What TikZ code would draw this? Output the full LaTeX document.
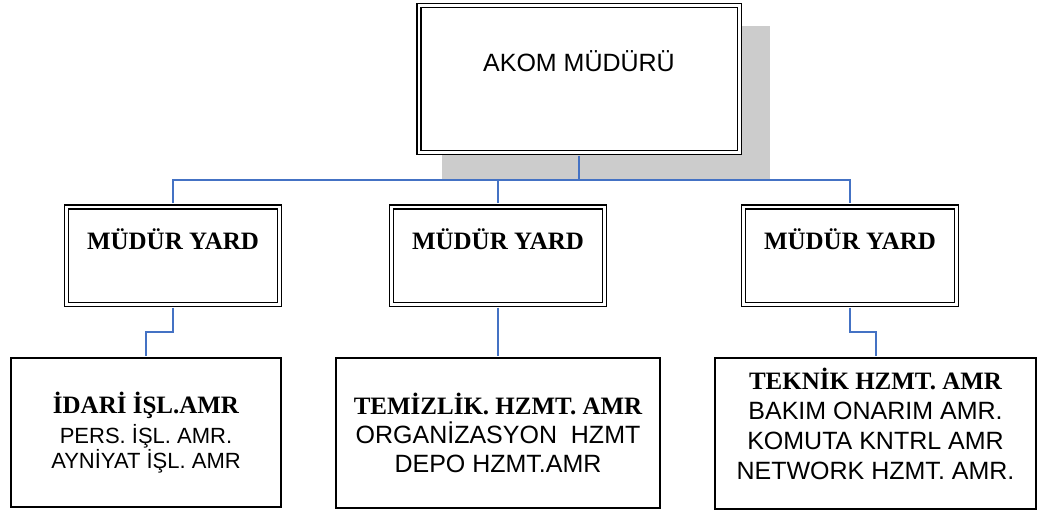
\documentclass[tikz,border=0pt]{standalone}
\usepackage{fontspec}
\setmainfont{Liberation Serif}
\setsansfont{Liberation Sans}
\usetikzlibrary{positioning, backgrounds, calc}
\definecolor{connblue}{RGB}{68,114,196}
\definecolor{shadowgray}{RGB}{204,204,204}

\begin{document}
\begin{tikzpicture}[
  x=1pt, y=-1pt,
  dbl/.style={draw, fill=white, line width=1.5pt, double, double distance=2.5pt, inner sep=0pt},
  topbox/.style={dbl, minimum width=320.5pt, minimum height=146.5pt,
    font=\sffamily\fontsize{25}{30}\selectfont, text height=18pt, text depth=34pt},
  yardbox/.style={dbl, minimum width=213pt, minimum height=97.5pt,
    font=\bfseries\fontsize{25}{30}\selectfont, text height=17pt, text depth=30pt},
  amrbox/.style={draw, line width=1.8pt, align=center, inner sep=0pt},
  conn/.style={draw=connblue, line width=2pt}
]
\useasboundingbox (0,0) rectangle (1039,511);

% Top — Müdür
\node[topbox] (akom) at (579,79) {AKOM MÜDÜRÜ};
\begin{scope}[on background layer]
  \fill[shadowgray] ($(akom.north west)+(24.3,21.3)$) rectangle ($(akom.south east)+(30.2,26.2)$);
\end{scope}

% Row 1 — Müdür yardımcıları
\node[yardbox] (yard1) at (173,255.5) {MÜDÜR YARD};
\node[yardbox] (yard2) at (498,255.5) {MÜDÜR YARD};
\node[yardbox] (yard3) at (850,255.5) {MÜDÜR YARD};

% Row 2 — Amirlikler
\node[amrbox, minimum width=270.5pt, minimum height=149.5pt,
      font=\sffamily\fontsize{22}{23}\selectfont] (amr1) at (146,432.5)
  {{\rmfamily\bfseries\fontsize{25}{30}\selectfont İDARİ İŞL.AMR}\\[5pt]
   PERS. İŞL. AMR.\\
   AYNİYAT İŞL. AMR};
\node[amrbox, minimum width=324.5pt, minimum height=150.5pt,
      font=\sffamily\fontsize{25}{29}\selectfont] (amr2) at (498,433)
  {{\rmfamily\bfseries TEMİZLİK. HZMT. AMR}\\
   ORGANİZASYON\ \ HZMT\\
   DEPO HZMT.AMR};
\node[amrbox, minimum width=321.5pt, minimum height=151.5pt,
      font=\sffamily\fontsize{25}{30}\selectfont] (amr3) at (875.5,433.5)
  {{\rmfamily\bfseries TEKNİK HZMT. AMR}\\
   BAKIM ONARIM AMR.\\
   KOMUTA KNTRL AMR\\
   NETWORK HZMT. AMR.\\[-10pt]\mbox{}};

% Top → Row 1
\coordinate (bus) at (579,180);
\draw[conn, shorten <=2.7pt] (akom.south) -- (bus);
\draw[conn, shorten <=2.7pt, shorten >=2.7pt] (yard1.north) |- (bus) -| (yard3.north);
\draw[conn, shorten >=2.7pt] (bus) -| (yard2.north);

% Row 1 → Row 2
\draw[conn, shorten <=2.7pt, shorten >=0.9pt] (yard1.south) -- ++(0,27.3) -| (amr1.north);
\draw[conn, shorten <=2.7pt, shorten >=0.9pt] (yard2.south) -- (amr2.north);
\draw[conn, shorten <=2.7pt, shorten >=0.9pt] (yard3.south) -- ++(0,27.3) -| (amr3.north);

\end{tikzpicture}
\end{document}
